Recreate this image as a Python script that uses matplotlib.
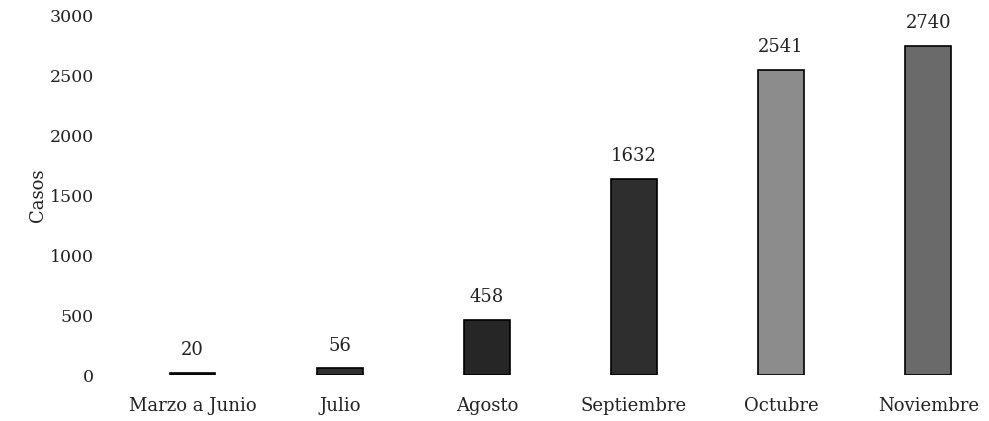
import matplotlib
matplotlib.use('Agg')
import matplotlib.pyplot as plt

meses = ['Marzo a Junio', 'Julio', 'Agosto', 'Septiembre', 'Octubre', 'Noviembre']
casos = [20, 56, 458, 1632, 2541, 2740]
colores = ['#303030', '#303030', '#262626', '#2e2e2e', '#8c8c8c', '#6a6a6a']
yticks = [0, 500, 1000, 1500, 2000, 2500, 3000]

fig = plt.figure(figsize=(9.89, 4.21), dpi=100)
ax = fig.add_axes([0.113, 0.109, 0.885, 0.855])

x = range(len(meses))
bars = ax.bar(x, casos, width=0.31, color=colores, edgecolor='black', linewidth=1.2)

for b, v in zip(bars, casos):
    ax.annotate(str(v), (b.get_x() + b.get_width() / 2, v), xytext=(0, 10),
                textcoords='offset points', ha='center', va='bottom',
                fontsize=13, family='DejaVu Serif', color='#222222')

ax.set_xlim(-0.55, 5.4)
ax.set_ylim(0, 3000)
ax.set_yticks(yticks)
ax.set_xticks(list(x))
ax.set_xticklabels(meses, family='DejaVu Serif', fontsize=13, color='#222222')
ax.set_yticklabels([str(t) for t in yticks], family='DejaVu Serif', fontsize=12.5, color='#222222')
ax.tick_params(axis='both', length=0)
ax.tick_params(axis='x', pad=16)
ax.tick_params(axis='y', pad=13)

for s in ax.spines.values():
    s.set_visible(False)

ax.set_ylabel('Casos', family='DejaVu Serif', fontsize=13, color='#222222', labelpad=2)

plt.savefig('out.png', dpi=100)
